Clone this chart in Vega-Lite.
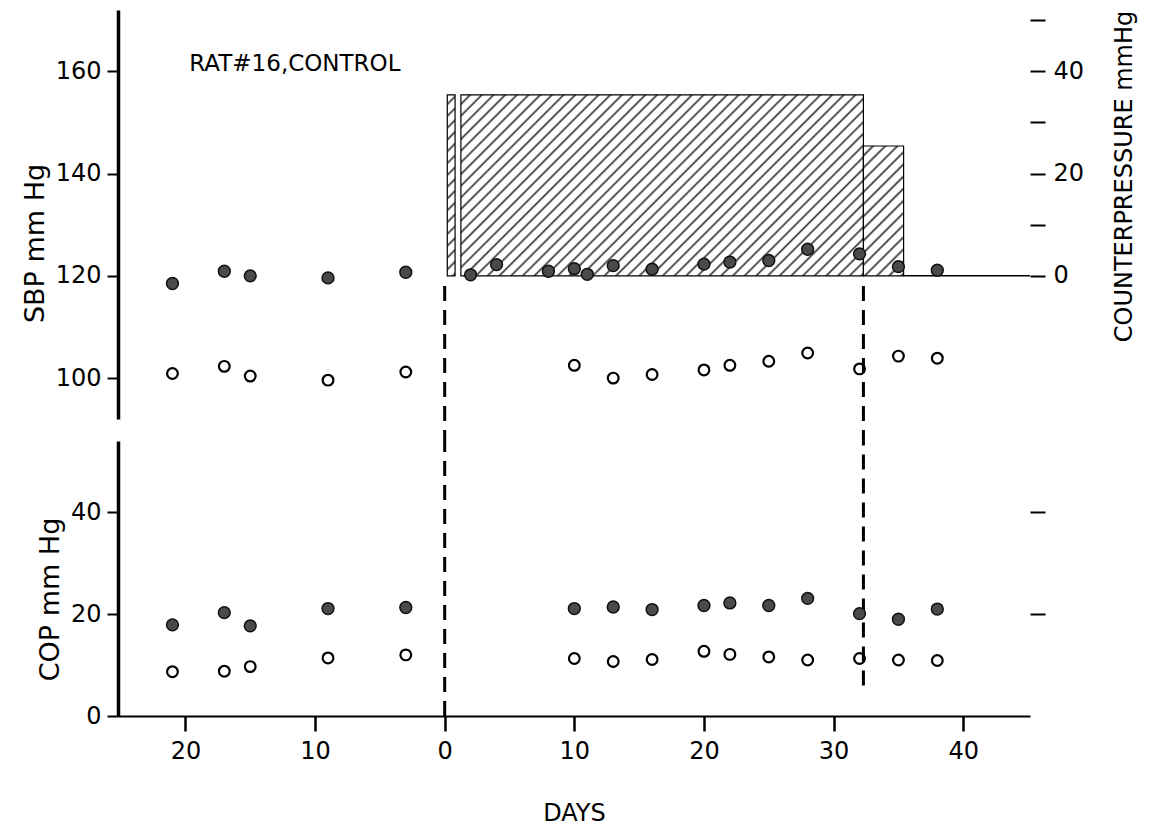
{
  "$schema": "https://vega.github.io/schema/vega-lite/v6.json",
  "background": "white",
  "padding": {"left": 21, "top": 10, "right": 5, "bottom": 5},
  "config": {
    "view": {"stroke": null},
    "font": "DejaVu Sans",
    "axis": {
      "grid": false,
      "labelFont": "DejaVu Sans",
      "titleFont": "DejaVu Sans",
      "labelColor": "black",
      "titleColor": "black",
      "domainColor": "black",
      "tickColor": "black",
      "titleFontWeight": "normal",
      "labelFontSize": 24,
      "titleFontSize": 27
    }
  },
  "datasets": {
    "sbp": [
      {"day": -21, "kind": "filled", "value": 118.5},
      {"day": -17, "kind": "filled", "value": 120.9},
      {"day": -15, "kind": "filled", "value": 120.0},
      {"day": -9, "kind": "filled", "value": 119.6},
      {"day": -3, "kind": "filled", "value": 120.7},
      {"day": 2, "kind": "filled", "value": 120.2},
      {"day": 4, "kind": "filled", "value": 122.2},
      {"day": 8, "kind": "filled", "value": 120.9},
      {"day": 10, "kind": "filled", "value": 121.4},
      {"day": 11, "kind": "filled", "value": 120.3},
      {"day": 13, "kind": "filled", "value": 122.0},
      {"day": 16, "kind": "filled", "value": 121.3},
      {"day": 20, "kind": "filled", "value": 122.3},
      {"day": 22, "kind": "filled", "value": 122.7},
      {"day": 25, "kind": "filled", "value": 123.0},
      {"day": 28, "kind": "filled", "value": 125.2},
      {"day": 32, "kind": "filled", "value": 124.3},
      {"day": 35, "kind": "filled", "value": 121.8},
      {"day": 38, "kind": "filled", "value": 121.1},
      {"day": -21, "kind": "open", "value": 100.9},
      {"day": -17, "kind": "open", "value": 102.3},
      {"day": -15, "kind": "open", "value": 100.4},
      {"day": -9, "kind": "open", "value": 99.6},
      {"day": -3, "kind": "open", "value": 101.2},
      {"day": 10, "kind": "open", "value": 102.5},
      {"day": 13, "kind": "open", "value": 100.0},
      {"day": 16, "kind": "open", "value": 100.7},
      {"day": 20, "kind": "open", "value": 101.6},
      {"day": 22, "kind": "open", "value": 102.5},
      {"day": 25, "kind": "open", "value": 103.3},
      {"day": 28, "kind": "open", "value": 104.9},
      {"day": 32, "kind": "open", "value": 101.8},
      {"day": 35, "kind": "open", "value": 104.3},
      {"day": 38, "kind": "open", "value": 103.9}
    ],
    "cop": [
      {"day": -21, "kind": "filled", "value": 17.9},
      {"day": -17, "kind": "filled", "value": 20.3},
      {"day": -15, "kind": "filled", "value": 17.7},
      {"day": -9, "kind": "filled", "value": 21.1},
      {"day": -3, "kind": "filled", "value": 21.3},
      {"day": 10, "kind": "filled", "value": 21.1},
      {"day": 13, "kind": "filled", "value": 21.4},
      {"day": 16, "kind": "filled", "value": 20.9},
      {"day": 20, "kind": "filled", "value": 21.7},
      {"day": 22, "kind": "filled", "value": 22.2},
      {"day": 25, "kind": "filled", "value": 21.7},
      {"day": 28, "kind": "filled", "value": 23.1},
      {"day": 32, "kind": "filled", "value": 20.1},
      {"day": 35, "kind": "filled", "value": 19.0},
      {"day": 38, "kind": "filled", "value": 21.0},
      {"day": -21, "kind": "open", "value": 8.7},
      {"day": -17, "kind": "open", "value": 8.8},
      {"day": -15, "kind": "open", "value": 9.7},
      {"day": -9, "kind": "open", "value": 11.4},
      {"day": -3, "kind": "open", "value": 12.0},
      {"day": 10, "kind": "open", "value": 11.3},
      {"day": 13, "kind": "open", "value": 10.7},
      {"day": 16, "kind": "open", "value": 11.1},
      {"day": 20, "kind": "open", "value": 12.7},
      {"day": 22, "kind": "open", "value": 12.1},
      {"day": 25, "kind": "open", "value": 11.6},
      {"day": 28, "kind": "open", "value": 11.0},
      {"day": 32, "kind": "open", "value": 11.3},
      {"day": 35, "kind": "open", "value": 11.0},
      {"day": 38, "kind": "open", "value": 10.9}
    ],
    "cp": [
      {"segment": "narrow", "start": 0.2, "end": 0.8, "pressure": 35.4},
      {"segment": "main", "start": 1.25, "end": 32.3, "pressure": 35.4},
      {"segment": "step", "start": 32.3, "end": 35.4, "pressure": 25.4},
      {"segment": "off", "start": 35.4, "end": 45.15, "pressure": 0}
    ],
    "label": [
      {"text": "RAT#16,CONTROL", "day": -19.7, "value": 161.5}
    ]
  },
  "bounds": "flush",
  "spacing": 22,
  "vconcat": [
    {
      "width": 912,
      "height": 409,
      "layer": [
        {
          "layer": [
            {
              "data": {"name": "cp"},
              "transform": [{"filter": "datum.segment === 'main'"}],
              "mark": {
                "type": "rect",
                "stroke": "black",
                "strokeWidth": 1.2,
                "fill": {
                  "gradient": "linear", "x1": 0, "y1": 0, "x2": 1.206, "y2": 0.5427,
                  "stops": [
                    {"offset": 0, "color": "#fff"}, {"offset": 0.012, "color": "#fff"}, {"offset": 0.016, "color": "#333"},
                    {"offset": 0.02, "color": "#fff"}, {"offset": 0.032, "color": "#fff"}, {"offset": 0.036, "color": "#333"},
                    {"offset": 0.04, "color": "#fff"}, {"offset": 0.052, "color": "#fff"}, {"offset": 0.056, "color": "#333"},
                    {"offset": 0.06, "color": "#fff"}, {"offset": 0.072, "color": "#fff"}, {"offset": 0.076, "color": "#333"},
                    {"offset": 0.08, "color": "#fff"}, {"offset": 0.092, "color": "#fff"}, {"offset": 0.096, "color": "#333"},
                    {"offset": 0.1, "color": "#fff"}, {"offset": 0.112, "color": "#fff"}, {"offset": 0.116, "color": "#333"},
                    {"offset": 0.12, "color": "#fff"}, {"offset": 0.132, "color": "#fff"}, {"offset": 0.136, "color": "#333"},
                    {"offset": 0.14, "color": "#fff"}, {"offset": 0.152, "color": "#fff"}, {"offset": 0.156, "color": "#333"},
                    {"offset": 0.16, "color": "#fff"}, {"offset": 0.172, "color": "#fff"}, {"offset": 0.176, "color": "#333"},
                    {"offset": 0.18, "color": "#fff"}, {"offset": 0.192, "color": "#fff"}, {"offset": 0.196, "color": "#333"},
                    {"offset": 0.2, "color": "#fff"}, {"offset": 0.212, "color": "#fff"}, {"offset": 0.216, "color": "#333"},
                    {"offset": 0.22, "color": "#fff"}, {"offset": 0.232, "color": "#fff"}, {"offset": 0.236, "color": "#333"},
                    {"offset": 0.24, "color": "#fff"}, {"offset": 0.252, "color": "#fff"}, {"offset": 0.256, "color": "#333"},
                    {"offset": 0.26, "color": "#fff"}, {"offset": 0.272, "color": "#fff"}, {"offset": 0.276, "color": "#333"},
                    {"offset": 0.28, "color": "#fff"}, {"offset": 0.292, "color": "#fff"}, {"offset": 0.296, "color": "#333"},
                    {"offset": 0.3, "color": "#fff"}, {"offset": 0.312, "color": "#fff"}, {"offset": 0.316, "color": "#333"},
                    {"offset": 0.32, "color": "#fff"}, {"offset": 0.332, "color": "#fff"}, {"offset": 0.336, "color": "#333"},
                    {"offset": 0.34, "color": "#fff"}, {"offset": 0.352, "color": "#fff"}, {"offset": 0.356, "color": "#333"},
                    {"offset": 0.36, "color": "#fff"}, {"offset": 0.372, "color": "#fff"}, {"offset": 0.376, "color": "#333"},
                    {"offset": 0.38, "color": "#fff"}, {"offset": 0.392, "color": "#fff"}, {"offset": 0.396, "color": "#333"},
                    {"offset": 0.4, "color": "#fff"}, {"offset": 0.412, "color": "#fff"}, {"offset": 0.416, "color": "#333"},
                    {"offset": 0.42, "color": "#fff"}, {"offset": 0.432, "color": "#fff"}, {"offset": 0.436, "color": "#333"},
                    {"offset": 0.44, "color": "#fff"}, {"offset": 0.452, "color": "#fff"}, {"offset": 0.456, "color": "#333"},
                    {"offset": 0.46, "color": "#fff"}, {"offset": 0.472, "color": "#fff"}, {"offset": 0.476, "color": "#333"},
                    {"offset": 0.48, "color": "#fff"}, {"offset": 0.492, "color": "#fff"}, {"offset": 0.496, "color": "#333"},
                    {"offset": 0.5, "color": "#fff"}, {"offset": 0.512, "color": "#fff"}, {"offset": 0.516, "color": "#333"},
                    {"offset": 0.52, "color": "#fff"}, {"offset": 0.532, "color": "#fff"}, {"offset": 0.536, "color": "#333"},
                    {"offset": 0.54, "color": "#fff"}, {"offset": 0.552, "color": "#fff"}, {"offset": 0.556, "color": "#333"},
                    {"offset": 0.56, "color": "#fff"}, {"offset": 0.572, "color": "#fff"}, {"offset": 0.576, "color": "#333"},
                    {"offset": 0.58, "color": "#fff"}, {"offset": 0.592, "color": "#fff"}, {"offset": 0.596, "color": "#333"},
                    {"offset": 0.6, "color": "#fff"}, {"offset": 0.612, "color": "#fff"}, {"offset": 0.616, "color": "#333"},
                    {"offset": 0.62, "color": "#fff"}, {"offset": 0.632, "color": "#fff"}, {"offset": 0.636, "color": "#333"},
                    {"offset": 0.64, "color": "#fff"}, {"offset": 0.652, "color": "#fff"}, {"offset": 0.656, "color": "#333"},
                    {"offset": 0.66, "color": "#fff"}, {"offset": 0.672, "color": "#fff"}, {"offset": 0.676, "color": "#333"},
                    {"offset": 0.68, "color": "#fff"}, {"offset": 0.692, "color": "#fff"}, {"offset": 0.696, "color": "#333"},
                    {"offset": 0.7, "color": "#fff"}, {"offset": 0.712, "color": "#fff"}, {"offset": 0.716, "color": "#333"},
                    {"offset": 0.72, "color": "#fff"}, {"offset": 0.732, "color": "#fff"}, {"offset": 0.736, "color": "#333"},
                    {"offset": 0.74, "color": "#fff"}, {"offset": 0.752, "color": "#fff"}, {"offset": 0.756, "color": "#333"},
                    {"offset": 0.76, "color": "#fff"}, {"offset": 0.772, "color": "#fff"}, {"offset": 0.776, "color": "#333"},
                    {"offset": 0.78, "color": "#fff"}, {"offset": 0.792, "color": "#fff"}, {"offset": 0.796, "color": "#333"},
                    {"offset": 0.8, "color": "#fff"}, {"offset": 0.812, "color": "#fff"}, {"offset": 0.816, "color": "#333"},
                    {"offset": 0.82, "color": "#fff"}, {"offset": 0.832, "color": "#fff"}, {"offset": 0.836, "color": "#333"},
                    {"offset": 0.84, "color": "#fff"}, {"offset": 0.852, "color": "#fff"}, {"offset": 0.856, "color": "#333"},
                    {"offset": 0.86, "color": "#fff"}, {"offset": 0.872, "color": "#fff"}, {"offset": 0.876, "color": "#333"},
                    {"offset": 0.88, "color": "#fff"}, {"offset": 0.892, "color": "#fff"}, {"offset": 0.896, "color": "#333"},
                    {"offset": 0.9, "color": "#fff"}, {"offset": 0.912, "color": "#fff"}, {"offset": 0.916, "color": "#333"},
                    {"offset": 0.92, "color": "#fff"}, {"offset": 0.932, "color": "#fff"}, {"offset": 0.936, "color": "#333"},
                    {"offset": 0.94, "color": "#fff"}, {"offset": 0.952, "color": "#fff"}, {"offset": 0.956, "color": "#333"},
                    {"offset": 0.96, "color": "#fff"}, {"offset": 0.972, "color": "#fff"}, {"offset": 0.976, "color": "#333"},
                    {"offset": 0.98, "color": "#fff"}, {"offset": 0.992, "color": "#fff"}, {"offset": 0.996, "color": "#333"},
                    {"offset": 1, "color": "#fff"}
                  ]
                }
              },
              "encoding": {
                "x": {"field": "start", "type": "quantitative", "scale": {"domain": [-25.2, 45.15], "nice": false, "zero": false}, "axis": null},
                "x2": {"field": "end"},
                "y": {
                  "field": "pressure", "type": "quantitative",
                  "scale": {"domain": [-28, 52], "nice": false, "zero": false},
                  "axis": {
                    "orient": "right",
                    "values": [0, 10, 20, 30, 40, 50],
                    "labelExpr": "datum.value % 20 === 0 ? datum.label : ''",
                    "domain": false,
                    "tickSize": 15,
                    "tickWidth": 2,
                    "labelPadding": 8,
                    "labelFontSize": 24,
                    "title": "COUNTERPRESSURE mmHg",
                    "titleFontSize": 24,
                    "titleAngle": 270,
                    "titleAlign": "center",
                    "titleBaseline": "top",
                    "titleX": 82,
                    "titleY": 166
                  }
                },
                "y2": {"datum": 0}
              }
            },
            {
              "data": {"name": "cp"},
              "transform": [{"filter": "datum.segment === 'narrow'"}],
              "mark": {
                "type": "rect",
                "stroke": "black",
                "strokeWidth": 1.2,
                "fill": {
                  "gradient": "linear", "x1": 0, "y1": 0, "x2": 0.0449, "y2": 1.0412,
                  "stops": [
                    {"offset": 0, "color": "#fff"}, {"offset": 0.0375, "color": "#fff"}, {"offset": 0.05, "color": "#333"},
                    {"offset": 0.0625, "color": "#fff"}, {"offset": 0.1, "color": "#fff"}, {"offset": 0.1125, "color": "#333"},
                    {"offset": 0.125, "color": "#fff"}, {"offset": 0.1625, "color": "#fff"}, {"offset": 0.175, "color": "#333"},
                    {"offset": 0.1875, "color": "#fff"}, {"offset": 0.225, "color": "#fff"}, {"offset": 0.2375, "color": "#333"},
                    {"offset": 0.25, "color": "#fff"}, {"offset": 0.2875, "color": "#fff"}, {"offset": 0.3, "color": "#333"},
                    {"offset": 0.3125, "color": "#fff"}, {"offset": 0.35, "color": "#fff"}, {"offset": 0.3625, "color": "#333"},
                    {"offset": 0.375, "color": "#fff"}, {"offset": 0.4125, "color": "#fff"}, {"offset": 0.425, "color": "#333"},
                    {"offset": 0.4375, "color": "#fff"}, {"offset": 0.475, "color": "#fff"}, {"offset": 0.4875, "color": "#333"},
                    {"offset": 0.5, "color": "#fff"}, {"offset": 0.5375, "color": "#fff"}, {"offset": 0.55, "color": "#333"},
                    {"offset": 0.5625, "color": "#fff"}, {"offset": 0.6, "color": "#fff"}, {"offset": 0.6125, "color": "#333"},
                    {"offset": 0.625, "color": "#fff"}, {"offset": 0.6625, "color": "#fff"}, {"offset": 0.675, "color": "#333"},
                    {"offset": 0.6875, "color": "#fff"}, {"offset": 0.725, "color": "#fff"}, {"offset": 0.7375, "color": "#333"},
                    {"offset": 0.75, "color": "#fff"}, {"offset": 0.7875, "color": "#fff"}, {"offset": 0.8, "color": "#333"},
                    {"offset": 0.8125, "color": "#fff"}, {"offset": 0.85, "color": "#fff"}, {"offset": 0.8625, "color": "#333"},
                    {"offset": 0.875, "color": "#fff"}, {"offset": 0.9125, "color": "#fff"}, {"offset": 0.925, "color": "#333"},
                    {"offset": 0.9375, "color": "#fff"}, {"offset": 0.975, "color": "#fff"}, {"offset": 0.9875, "color": "#333"},
                    {"offset": 1, "color": "#fff"}
                  ]
                }
              },
              "encoding": {
                "x": {"field": "start", "type": "quantitative", "scale": {"domain": [-25.2, 45.15], "nice": false, "zero": false}, "axis": null},
                "x2": {"field": "end"},
                "y": {"field": "pressure", "type": "quantitative", "scale": {"domain": [-28, 52], "nice": false, "zero": false}},
                "y2": {"datum": 0}
              }
            },
            {
              "data": {"name": "cp"},
              "transform": [{"filter": "datum.segment === 'step'"}],
              "mark": {
                "type": "rect",
                "stroke": "black",
                "strokeWidth": 1.2,
                "fill": {
                  "gradient": "linear", "x1": 0, "y1": 0, "x2": 0.369, "y2": 1.195,
                  "stops": [
                    {"offset": 0, "color": "#fff"}, {"offset": 0.0429, "color": "#fff"}, {"offset": 0.0571, "color": "#333"},
                    {"offset": 0.0714, "color": "#fff"}, {"offset": 0.1143, "color": "#fff"}, {"offset": 0.1286, "color": "#333"},
                    {"offset": 0.1429, "color": "#fff"}, {"offset": 0.1857, "color": "#fff"}, {"offset": 0.2, "color": "#333"},
                    {"offset": 0.2143, "color": "#fff"}, {"offset": 0.2571, "color": "#fff"}, {"offset": 0.2714, "color": "#333"},
                    {"offset": 0.2857, "color": "#fff"}, {"offset": 0.3286, "color": "#fff"}, {"offset": 0.3429, "color": "#333"},
                    {"offset": 0.3571, "color": "#fff"}, {"offset": 0.4, "color": "#fff"}, {"offset": 0.4143, "color": "#333"},
                    {"offset": 0.4286, "color": "#fff"}, {"offset": 0.4714, "color": "#fff"}, {"offset": 0.4857, "color": "#333"},
                    {"offset": 0.5, "color": "#fff"}, {"offset": 0.5429, "color": "#fff"}, {"offset": 0.5571, "color": "#333"},
                    {"offset": 0.5714, "color": "#fff"}, {"offset": 0.6143, "color": "#fff"}, {"offset": 0.6286, "color": "#333"},
                    {"offset": 0.6429, "color": "#fff"}, {"offset": 0.6857, "color": "#fff"}, {"offset": 0.7, "color": "#333"},
                    {"offset": 0.7143, "color": "#fff"}, {"offset": 0.7571, "color": "#fff"}, {"offset": 0.7714, "color": "#333"},
                    {"offset": 0.7857, "color": "#fff"}, {"offset": 0.8286, "color": "#fff"}, {"offset": 0.8429, "color": "#333"},
                    {"offset": 0.8571, "color": "#fff"}, {"offset": 0.9, "color": "#fff"}, {"offset": 0.9143, "color": "#333"},
                    {"offset": 0.9286, "color": "#fff"}, {"offset": 0.9714, "color": "#fff"}, {"offset": 0.9857, "color": "#333"},
                    {"offset": 1, "color": "#fff"}
                  ]
                }
              },
              "encoding": {
                "x": {"field": "start", "type": "quantitative", "scale": {"domain": [-25.2, 45.15], "nice": false, "zero": false}, "axis": null},
                "x2": {"field": "end"},
                "y": {"field": "pressure", "type": "quantitative", "scale": {"domain": [-28, 52], "nice": false, "zero": false}},
                "y2": {"datum": 0}
              }
            },
            {
              "data": {"name": "cp"},
              "transform": [{"filter": "datum.segment === 'off'"}],
              "mark": {"type": "rule", "stroke": "black", "strokeWidth": 1.5},
              "encoding": {
                "x": {"field": "start", "type": "quantitative", "scale": {"domain": [-25.2, 45.15], "nice": false, "zero": false}, "axis": null},
                "x2": {"field": "end"},
                "y": {"field": "pressure", "type": "quantitative", "scale": {"domain": [-28, 52], "nice": false, "zero": false}}
              }
            },
            {
              "mark": {"type": "rule", "stroke": "black", "strokeWidth": 2.5},
              "encoding": {
                "x": {"datum": 45.15, "type": "quantitative", "scale": {"domain": [-25.2, 45.15], "nice": false, "zero": false}, "axis": null},
                "y": {"datum": 0, "type": "quantitative", "scale": {"domain": [-28, 52], "nice": false, "zero": false}},
                "y2": {"datum": 52}
              }
            }
          ]
        },
        {
          "layer": [
            {
              "data": {"values": [{"day": 0}, {"day": 32.3}]},
              "mark": {"type": "rule", "stroke": "black", "strokeWidth": 3, "strokeDash": [15, 9]},
              "encoding": {
                "x": {"field": "day", "type": "quantitative", "scale": {"domain": [-25.2, 45.15], "nice": false, "zero": false}, "axis": null},
                "y": {
                  "datum": 118, "type": "quantitative",
                  "scale": {"domain": [92, 172], "nice": false, "zero": false},
                  "axis": {
                    "orient": "left",
                    "values": [100, 120, 140, 160],
                    "domainWidth": 3.5,
                    "tickSize": 11,
                    "tickWidth": 2,
                    "labelPadding": 6,
                    "title": "SBP mm Hg",
                    "titlePadding": 6,
                    "titleY": 233
                  }
                },
                "y2": {"datum": 87.7}
              }
            },
            {
              "data": {"name": "sbp"},
              "transform": [{"filter": "datum.kind === 'filled'"}],
              "mark": {"type": "point", "shape": "circle", "filled": true, "fill": "#4a4a4a", "stroke": "#111", "strokeWidth": 1.5, "size": 140, "opacity": 1},
              "encoding": {
                "x": {"field": "day", "type": "quantitative", "scale": {"domain": [-25.2, 45.15], "nice": false, "zero": false}, "axis": null},
                "y": {"field": "value", "type": "quantitative", "scale": {"domain": [92, 172], "nice": false, "zero": false}}
              }
            },
            {
              "data": {"name": "sbp"},
              "transform": [{"filter": "datum.kind === 'open'"}],
              "mark": {"type": "point", "shape": "circle", "filled": false, "stroke": "black", "strokeWidth": 2.2, "size": 115, "opacity": 1},
              "encoding": {
                "x": {"field": "day", "type": "quantitative", "scale": {"domain": [-25.2, 45.15], "nice": false, "zero": false}, "axis": null},
                "y": {"field": "value", "type": "quantitative", "scale": {"domain": [92, 172], "nice": false, "zero": false}}
              }
            },
            {
              "data": {"name": "label"},
              "mark": {"type": "text", "font": "DejaVu Sans", "fontSize": 23, "align": "left", "baseline": "middle", "fill": "black"},
              "encoding": {
                "text": {"field": "text"},
                "x": {"field": "day", "type": "quantitative", "scale": {"domain": [-25.2, 45.15], "nice": false, "zero": false}, "axis": null},
                "y": {"field": "value", "type": "quantitative", "scale": {"domain": [92, 172], "nice": false, "zero": false}}
              }
            }
          ]
        }
      ],
      "resolve": {"scale": {"y": "independent"}}
    },
    {
      "width": 912,
      "height": 275,
      "layer": [
        {
          "layer": [
            {
              "data": {"values": [{"day": 0, "from": 0, "to": 54}, {"day": 32.3, "from": 6, "to": 54}]},
              "mark": {"type": "rule", "stroke": "black", "strokeWidth": 3, "strokeDash": [15, 9]},
              "encoding": {
                "x": {"field": "day", "type": "quantitative", "scale": {"domain": [-25.2, 45.15], "nice": false, "zero": false}},
                "y": {"field": "from", "type": "quantitative", "scale": {"domain": [0, 54], "nice": false, "zero": false}},
                "y2": {"field": "to"}
              }
            },
            {
              "data": {"name": "cop"},
              "transform": [{"filter": "datum.kind === 'filled'"}],
              "mark": {"type": "point", "shape": "circle", "filled": true, "fill": "#4a4a4a", "stroke": "#111", "strokeWidth": 1.5, "size": 140, "opacity": 1},
              "encoding": {
                "x": {
                  "field": "day", "type": "quantitative",
                  "scale": {"domain": [-25.2, 45.15], "nice": false, "zero": false},
                  "axis": {
                    "values": [-20, -10, 0, 10, 20, 30, 40],
                    "labelExpr": "abs(datum.value)",
                    "domainWidth": 2,
                    "tickSize": 15,
                    "tickWidth": 2.5,
                    "labelPadding": 8,
                    "labelFontSize": 24,
                    "title": "DAYS",
                    "titleFontSize": 24,
                    "titlePadding": 38
                  }
                },
                "y": {
                  "field": "value", "type": "quantitative",
                  "scale": {"domain": [0, 54], "nice": false, "zero": false},
                  "axis": {
                    "orient": "left",
                    "values": [0, 20, 40],
                    "domainWidth": 3.5,
                    "tickSize": 11,
                    "tickWidth": 2,
                    "labelPadding": 6,
                    "title": "COP mm Hg",
                    "titlePadding": 6,
                    "titleY": 158
                  }
                }
              }
            },
            {
              "data": {"name": "cop"},
              "transform": [{"filter": "datum.kind === 'open'"}],
              "mark": {"type": "point", "shape": "circle", "filled": false, "stroke": "black", "strokeWidth": 2.2, "size": 115, "opacity": 1},
              "encoding": {
                "x": {"field": "day", "type": "quantitative", "scale": {"domain": [-25.2, 45.15], "nice": false, "zero": false}},
                "y": {"field": "value", "type": "quantitative", "scale": {"domain": [0, 54], "nice": false, "zero": false}}
              }
            }
          ]
        },
        {
          "layer": [
            {
              "mark": {"type": "rule", "stroke": "black", "strokeWidth": 2.5},
              "encoding": {
                "x": {"datum": 45.15, "type": "quantitative", "scale": {"domain": [-25.2, 45.15], "nice": false, "zero": false}},
                "y": {
                  "datum": 0, "type": "quantitative",
                  "scale": {"domain": [0, 54], "nice": false, "zero": false},
                  "axis": {"orient": "right", "values": [20, 40], "labels": false, "domain": false, "tickSize": 15, "tickWidth": 2, "title": null}
                },
                "y2": {"datum": 52.8}
              }
            },
            {
              "mark": {"type": "rule", "stroke": "black", "strokeWidth": 2},
              "encoding": {
                "x": {"datum": 45.15, "type": "quantitative", "scale": {"domain": [-25.2, 45.15], "nice": false, "zero": false}},
                "x2": {"datum": 46.3},
                "y": {"datum": 0, "type": "quantitative", "scale": {"domain": [0, 54], "nice": false, "zero": false}}
              }
            }
          ]
        }
      ],
      "resolve": {"scale": {"y": "independent"}}
    }
  ]
}
